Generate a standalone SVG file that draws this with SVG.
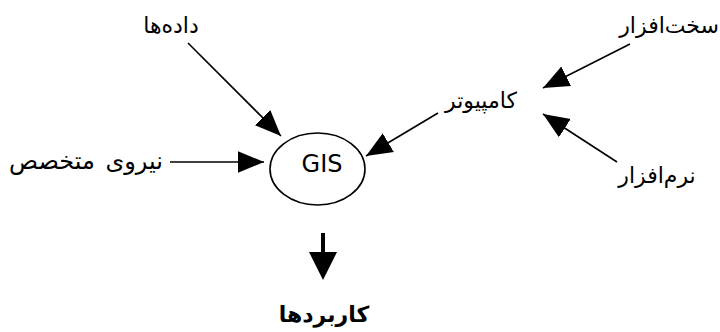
<svg xmlns="http://www.w3.org/2000/svg" width="720" height="332" viewBox="0 0 720 332">
<style>
text{font-family:"DejaVu Sans","Noto Sans",sans-serif;fill:#000}
.fa{font-size:22px}
.ln{stroke:#000;stroke-width:1.6;fill:none}
</style>
<defs>
<marker id="ah" markerUnits="userSpaceOnUse" markerWidth="26" markerHeight="26" refX="24" refY="10" orient="auto" viewBox="0 0 24 20">
<path d="M0,0 L24,10 L0,20 Z" fill="#000"/>
</marker>
</defs>
<rect width="720" height="332" fill="#fff"/>
<g id="connectors">
<line class="ln" x1="188" y1="43" x2="281" y2="136" marker-end="url(#ah)"/>
<line class="ln" x1="170" y1="162" x2="264" y2="162" marker-end="url(#ah)"/>
<line class="ln" x1="438" y1="113" x2="366" y2="156" marker-end="url(#ah)"/>
<line class="ln" x1="630" y1="44" x2="543" y2="88" marker-end="url(#ah)"/>
<line class="ln" x1="617" y1="162" x2="543" y2="114" marker-end="url(#ah)"/>
<line x1="323" y1="233" x2="323" y2="256" stroke="#000" stroke-width="4"/>
<path d="M309,252 L337,252 L323,280 Z" fill="#000"/>
</g>
<g id="gis">
<ellipse cx="317.5" cy="169" rx="47.5" ry="36" fill="#fff" stroke="#000" stroke-width="1.6"/>
<text x="322" y="172" font-size="24" text-anchor="middle">GIS</text>
</g>
<g id="dadeha"><text class="fa" x="171" y="33" text-anchor="middle">داده‌ها</text></g>
<g id="niroo"><text x="163" y="169" text-anchor="end" style="font-size:24px" word-spacing="3">نیروی متخصص</text></g>
<g id="computer"><text class="fa" x="481" y="108" text-anchor="middle">کامپیوتر</text></g>
<g id="sakhtafzar"><text class="fa" x="719" y="33" text-anchor="end">سخت‌افزار</text></g>
<g id="narmafzar"><text class="fa" x="657" y="183" text-anchor="middle">نرم‌افزار</text></g>
<g id="karbord"><text x="324" y="322" font-size="22" font-weight="bold" text-anchor="middle">کاربردها</text></g>
</svg>
